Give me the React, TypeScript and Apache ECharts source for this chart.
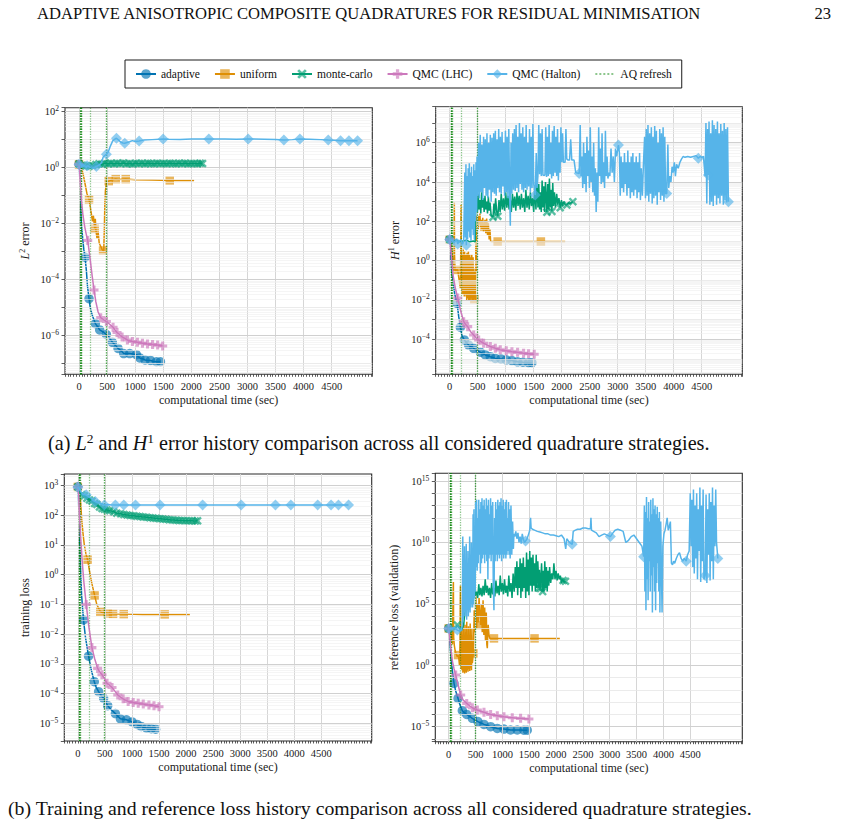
import React, { useEffect, useRef } from "react";
import * as echarts from "echarts";

type Pt = [number, number];

// ---------- shared ----------
const legendNames = ["adaptive", "uniform", "monte-carlo", "QMC (LHC)", "QMC (Halton)", "AQ refresh"];
const xTickLabels = [0, 500, 1000, 1500, 2000, 2500, 3000, 3500, 4000, 4500];
const refreshTimes = [20, 25, 30, 35, 40, 46, 208, 486, 492];

// ---------- (a) left: L2 error ----------
const l2AdaptiveLine: Pt[] = [[8,0.9],[18,0.2],[30,0.03],[45,8e-3],[65,3e-3],[85,1.2e-3],[130,2.2e-4],[150,6e-5],[200,1e-5],[240,5e-6],[330,2.1e-6],[420,1.4e-6],[540,8.5e-7],[650,4.5e-7],[750,2.9e-7],[850,2.3e-7],[960,2.2e-7],[1130,1.5e-7],[1230,1.3e-7],[1330,1.2e-7]];
const l2AdaptiveMarks: Pt[] = [[0,1.35],[107,6.3e-4],[178,2.1e-5],[291,2.7e-6],[368,1.6e-6],[487,1.1e-6],[594,5.8e-7],[695,3.5e-7],[796,2.3e-7],[903,2.3e-7],[1022,2.1e-7],[1082,1.6e-7],[1177,1.35e-7],[1273,1.3e-7],[1379,1.17e-7],[1450,1.17e-7]];
const l2UniformLine: Pt[] = [[20,1.1],[50,0.9],[80,0.5],[110,0.25],[140,0.12],[210,0.03],[240,0.012],[255,0.02],[290,0.015],[300,6e-3],[320,3e-3],[340,5e-3],[360,2e-3],[390,1.5e-3],[410,1.2e-3],[440,1e-3],[450,6e-3],[460,0.05],[470,0.15],[490,0.3],[580,0.36],[700,0.38],[1000,0.37],[1300,0.36],[2050,0.35]];
const l2UniformMarks: Pt[] = [[0,1.3],[178,0.074],[279,6.5e-3],[428,1.1e-3],[529,0.33],[654,0.39],[832,0.39],[1616,0.35]];
const l2McLine: Pt[] = [];
const l2McMarks: Pt[] = [[0,1.35],[60,1.22],[120,1.15],[180,1.12],[240,1.18],[300,1.3],[355,1.38],[410,1.33],[460,1.42],[515,1.38],[570,1.44],[625,1.37],[680,1.42],[735,1.39],[790,1.45],[845,1.38],[900,1.41],[955,1.36],[1010,1.43],[1065,1.39],[1120,1.42],[1175,1.37],[1230,1.44],[1285,1.4],[1340,1.38],[1395,1.43],[1450,1.39],[1505,1.41],[1560,1.37],[1615,1.44],[1670,1.4],[1725,1.38],[1780,1.42],[1835,1.39],[1890,1.43],[1945,1.38],[2000,1.41],[2055,1.4],[2110,1.37],[2160,1.42],[2200,1.4]];
const l2LhcLine: Pt[] = [[10,0.8],[25,0.25],[45,0.06],[70,0.02],[100,8e-3],[125,4.5e-3],[200,5e-4],[235,1.3e-4],[300,1.6e-5],[340,7e-6],[430,3.8e-6],[540,2.6e-6],[640,1.6e-6],[720,1.1e-6],[815,8e-7],[905,6.5e-7],[995,6e-7],[1085,5.6e-7],[1175,5.2e-7],[1265,4.9e-7],[1355,4.7e-7],[1445,4.5e-7]];
const l2LhcMarks: Pt[] = [[0,1.3],[155,2.5e-3],[267,4.3e-5],[386,4.4e-6],[487,3.2e-6],[606,2e-6],[677,1.3e-6],[767,9e-7],[862,7e-7],[951,6.2e-7],[1040,5.8e-7],[1130,5.4e-7],[1220,5e-7],[1310,4.8e-7],[1400,4.6e-7],[1490,4.3e-7]];
const l2HaltonLine: Pt[] = [[30,1.5],[45,1.0],[60,1.3],[80,1.1],[100,1.2],[130,1.0],[160,1.15],[200,1.0],[250,0.95],[290,1.05],[350,1.2],[400,1.5],[430,2.4],[460,2.7],[520,3.6],[560,6],[600,9],[640,10.5],[700,9.8],[740,8.2],[780,7.6],[900,8.4],[950,9.2],[1000,8.6],[1150,9.6],[1300,10],[1600,10.3],[1800,10.2],[2000,10.5],[2600,10.6],[2800,10.3],[3300,10.4],[3500,10.2],[3800,10],[4100,10.3],[4300,10],[4550,9.5]];
const l2HaltonMarks: Pt[] = [[0,1.3],[143,1.17],[309,1.1],[487,3.0],[666,11.2],[814,7.4],[1070,8.9],[1498,10.5],[2312,10.5],[3013,10.5],[3649,9.7],[3934,10.5],[4439,9.7],[4659,9.1],[4808,9.1],[4962,9.1]];

// ---------- (a) right: H1 error ----------
const h1AdaptiveLine: Pt[] = [[10,5],[20,1.5],[35,0.3],[60,0.08],[90,0.02],[160,1.5e-3],[220,1.5e-4],[300,6.5e-5],[380,4.2e-5],[480,2.8e-5],[590,1.9e-5],[680,1.45e-5],[770,1.2e-5],[860,1.03e-5],[960,9.5e-6],[1060,8.6e-6],[1160,7.7e-6],[1260,7e-6],[1360,6.6e-6]];
const h1AdaptiveMarks: Pt[] = [[0,12],[131,6.8e-3],[190,4.1e-4],[261,9.3e-5],[339,5.1e-5],[428,3.5e-5],[547,2.2e-5],[636,1.6e-5],[725,1.3e-5],[814,1.07e-5],[915,1e-5],[1010,9e-6],[1111,8.3e-6],[1212,7.2e-6],[1307,6.8e-6],[1408,6.5e-6],[1468,6.5e-6]];
const h1UniformLine: Pt[] = [[15,10],[30,6],[45,2],[60,0.5],[75,0.3],[80,30],[83,900],[86,2],[95,0.4],[110,0.3],[125,0.35],[160,0.15],[175,0.08],[190,0.04],[198,5],[202,700],[206,3],[212,0.05],[218,2],[224,0.03],[230,1.5],[236,0.02],[242,4],[248,0.03],[254,1],[260,0.015],[266,3],[272,0.02],[286,2],[292,0.015],[298,0.8],[304,0.01],[310,2.5],[316,0.012],[322,1.2],[328,0.02],[334,3],[340,0.01],[346,0.7],[352,0.015],[358,2],[364,0.01],[370,1.5],[376,0.02],[382,0.5],[388,0.012],[394,2],[400,0.01],[406,0.9],[412,0.015],[418,1.5],[424,0.01],[430,0.4],[450,0.3],[458,0.01],[464,0.5],[470,200],[476,0.3],[482,150],[490,60],[500,200],[510,40],[520,180],[530,70],[540,250],[550,50],[560,120],[575,40],[590,150],[605,30],[630,120],[645,25],[660,140],[675,20],[690,80],[705,12],[718,40],[730,10],[745,9.4],[2062,9.4]];
const h1UniformMarks: Pt[] = [[0,12],[143,0.34],[279,0.032],[440,0.011],[618,54],[856,9.4],[1628,9.4]];
const h1McLine: Pt[] = [[60,10],[120,11],[180,9],[240,10],[300,11],[360,9],[420,10],[455,9],[462,250],[480,1500],[495,300],[510,2500],[525,400],[540,1200],[555,250],[570,3000],[585,500],[600,1500],[615,300],[630,2000],[645,400],[660,1000],[675,250],[690,1800],[705,350],[720,900],[740,200],[790,800],[805,250],[820,1500],[840,300],[880,1200],[900,300],[920,2500],[940,400],[960,1500],[980,350],[1000,3000],[1020,500],[1040,2000],[1060,400],[1080,1500],[1100,300],[1120,2500],[1140,500],[1160,1800],[1180,350],[1200,3000],[1220,600],[1240,2000],[1260,400],[1280,2500],[1300,500],[1320,1500],[1340,300],[1360,4000],[1380,500],[1400,2000],[1420,400],[1440,3000],[1460,600],[1480,1500],[1500,300],[1520,5000],[1540,400],[1560,20000],[1575,500],[1590,8000],[1605,400],[1620,3000],[1635,300],[1650,12000],[1665,500],[1680,6000],[1695,300],[1710,10000],[1750,8000],[1765,400],[1780,15000],[1795,500],[1810,4000],[1840,9000],[1855,600],[1870,3000],[1890,500],[1910,2500],[1930,700],[1950,1500],[1995,1200],[2015,600],[2035,1000],[2060,700],[2120,900],[2150,800]];
const h1McMarks: Pt[] = [[0,12],[773,160],[860,180],[1735,290],[1825,320],[1973,490],[2092,680],[2199,1000]];
const h1LhcLine: Pt[] = [[15,5],[35,1.2],[59,0.19],[100,0.04],[200,2.5e-3],[290,5.5e-4],[370,2.5e-4],[470,1.2e-4],[560,7.5e-5],[665,5.2e-5],[770,3.9e-5],[860,3.2e-5],[960,2.7e-5],[1060,2.45e-5],[1160,2.25e-5],[1265,2.05e-5],[1360,1.9e-5],[1460,1.8e-5]];
const h1LhcMarks: Pt[] = [[0,12],[143,0.0126],[250,7.9e-4],[321,4.4e-4],[428,1.66e-4],[517,9.3e-5],[606,6.3e-5],[725,4.3e-5],[814,3.5e-5],[903,2.9e-5],[1010,2.6e-5],[1111,2.3e-5],[1212,2.2e-5],[1319,1.95e-5],[1408,1.86e-5],[1509,1.74e-5]];
const h1HaltonLine: Pt[] = [[40,11],[80,8],[120,13],[160,9],[200,12],[230,7],[250,10],
[261,10],[270,3e4],[280,15],[290,8e4],[310,2e4],[320,12],[330,5e4],[340,30],[350,9e4],[360,15],[370,3e4],[380,10],[390,6e4],[400,40],[410,2e4],[420,20],[430,8e4],[440,12],[450,4e4],[460,100],[470,1e5],[480,300],[488,2e5],
[500,2000],[515,1e6],[530,1500],[545,2.5e6],[560,3000],[575,8e5],[590,1200],[605,2e6],[620,5000],[635,1.5e6],[650,2000],[665,3e6],[680,1500],[695,1e6],[710,4000],[725,2.5e6],[740,1000],[755,1.8e6],[770,3000],[785,3e6],
[800,2500],[815,4e6],[830,2000],[845,1.5e6],[860,5000],[875,5e6],[890,3000],[905,2e6],[920,2500],[935,3.5e6],[950,6000],[965,1e6],[980,2000],[995,4e6],[1010,3000],[1025,2e6],[1040,1500],[1055,5e6],[1070,3000],[1082,60],[1095,1e6],[1110,2500],[1125,3e6],[1140,4000],
[1155,5e6],[1170,3500],[1185,8e6],[1200,5000],[1215,2e6],[1230,3000],[1245,1e7],[1260,8000],[1275,3e6],[1290,4000],[1305,6e6],[1320,3000],[1335,2e6],[1350,5000],[1365,8e6],[1380,4000],[1395,1e6],[1410,6000],[1425,5e6],[1440,3000],[1455,2e6],[1470,5000],[1485,9e6],[1500,8000],[1545,3e5],[1560,5e3],
[1575,2e4],[1590,8e6],[1605,2.5e4],[1620,3e6],[1635,2e4],[1650,5e6],[1665,2.2e4],[1700,2.2e4],[1715,6e6],[1730,1.8e4],[1745,2e6],[1760,2e4],[1775,8e6],[1790,2.5e4],[1805,1e6],[1820,1.5e4],[1835,4e6],[1850,2e4],[1865,7e6],[1880,3e4],[1895,2e6],[1910,2e4],[1925,5e6],[1940,1.2e4],[1955,1e6],[1970,3e4],[1985,6e6],[2000,1e5],[2015,3e6],[2030,1e5],[2060,1e5],[2075,5e6],[2090,1.5e5],[2110,1.3e5],[2140,1.3e5],[2160,1.5e6],[2180,1.3e5],[2220,1.3e5],[2250,3e4],
[2330,8e6],[2345,2e4],[2360,2e5],[2375,5000],[2390,1e6],[2405,8000],[2420,3e5],[2435,3000],[2450,2e6],[2465,2e4],[2480,4e5],[2495,5000],[2510,6e6],[2525,1e4],[2540,2e5],[2555,3000],[2570,1e6],[2585,2000],[2600,5e4],[2615,300],[2630,3e4],[2645,1000],[2660,6e6],[2675,2e4],[2690,5e5],[2705,8000],[2720,3e6],[2735,1e4],[2750,1e5],[2765,5000],[2780,4e6],[2795,2e4],[2810,2e5],[2825,1.5e4],[2840,3e4],[2860,2e4],[2880,5e5],[2900,3e4],[2920,2e5],[2940,1e4],[2960,5e5],[2980,2e5],
[3030,3e5],[3045,2000],[3060,2e5],[3075,5000],[3090,1e5],[3105,3000],[3120,3e5],[3135,8000],[3150,1e5],[3165,2000],[3180,4e5],[3195,5000],[3210,1e5],[3225,1500],[3240,2e5],[3255,3000],[3270,3e5],[3285,2000],[3300,1e5],[3315,4000],[3330,2e5],[3345,1500],[3360,1e5],[3375,3000],[3390,3e5],[3405,1200],[3420,5e4],[3440,2000],[3460,1e5],
[3480,2e6],[3495,1500],[3510,5e6],[3525,2000],[3540,8e6],[3555,1000],[3570,3e6],[3585,2500],[3600,6e6],[3615,800],[3630,2e6],[3645,1500],[3660,7e6],[3675,2000],[3690,4e6],[3705,700],[3720,1e6],[3735,3000],[3750,5e6],[3765,1200],[3780,3e6],[3795,2000],[3810,6e6],[3825,1000],[3840,2e6],[3855,2500],[3895,8e5],[3910,5000],[3930,2e4],[3950,1e4],[3970,6e4],
[3990,3e4],[4010,1e5],[4030,2e4],[4050,8e4],[4080,5e4],[4110,1e5],[4140,1.5e5],[4170,2e5],[4200,1.8e5],[4250,2e5],[4300,1.8e5],[4350,2e5],[4400,2.2e5],[4470,2e5],[4500,1.8e5],[4530,2e5],[4560,2e4],
[4575,1e7],[4590,800],[4605,5e6],[4630,1.2e7],[4645,700],[4660,3e6],[4675,1000],[4690,1.4e7],[4705,600],[4720,8e6],[4735,2000],[4750,5e6],[4765,700],[4780,1.2e7],[4795,1500],[4810,3e6],[4825,800],[4840,9e6],[4855,2000],[4870,4e6],[4885,700],[4900,1e7],[4915,1200],[4930,5e6],[4945,900],[4960,6e6]];
const h1HaltonMarks: Pt[] = [[0,12],[143,7],[297,6],[1527,2200],[2312,2.7e4],[3013,7.6e5],[3875,2600],[4439,1.6e5],[4618,2.3e4],[4976,1000]];

// ---------- (b) left: training loss ----------
const trAdaptiveLine: Pt[] = [[10,600],[20,100],[35,10],[50,1.5],[70,0.2],[140,8e-3],[250,6e-4],[340,1.6e-4],[430,8.5e-5],[510,5.3e-5],[620,2.8e-5],[740,1.7e-5],[840,1.35e-5],[950,1.2e-5],[1050,1e-5],[1130,8.4e-6],[1220,7.2e-6],[1310,6.6e-6],[1400,6.4e-6]];
const trAdaptiveMarks: Pt[] = [[0,900],[105,0.03],[198,1.8e-3],[304,2.5e-4],[384,1.15e-4],[477,6.9e-5],[552,3.9e-5],[694,2.1e-5],[787,1.4e-5],[899,1.3e-5],[1004,1.1e-5],[1097,9.1e-6],[1171,7.8e-6],[1271,6.8e-6],[1357,6.5e-6],[1438,6.3e-6]];
const trUniformLine: Pt[] = [[30,800],[50,300],[70,80],[95,25],[120,10],[150,5],[220,1.2],[260,0.5],[350,0.1],[460,0.052],[750,0.047],[1200,0.046],[2070,0.046]];
const trUniformMarks: Pt[] = [[0,900],[180,3.2],[310,0.2],[415,0.057],[552,0.05],[651,0.048],[849,0.047],[1605,0.046]];
const trMcLine: Pt[] = [[30,600],[95,480],[140,420],[190,350],[240,320],[285,270],[330,240],[375,210],[420,180],[470,165],[515,155],[565,145],[625,138],[690,125],[755,115],[820,108],[880,104],[940,100],[1000,97],[1060,94],[1120,91],[1180,89],[1240,87],[1300,84],[1360,82],[1420,80],[1480,78],[1540,76],[1600,74],[1660,72],[1720,70],[1780,69],[1840,68],[1900,67],[1960,66],[2020,66],[2080,65],[2140,64],[2190,65]];
const trMcMarks: Pt[] = [[0,900],[74,490],[120,450],[167,375],[215,330],[260,300],[310,250],[353,230],[400,190],[446,170],[490,160],[539,150],[590,142],[663,132],[720,118],[790,112],[850,106],[910,102],[970,98],[1030,96],[1090,92],[1150,91],[1210,88],[1270,86],[1330,83],[1390,81],[1450,79],[1510,77],[1570,75],[1630,73],[1690,71],[1750,70],[1810,68],[1870,67],[1930,67],[1990,66],[2050,65],[2110,65],[2170,64],[2213,65]];
const trLhcLine: Pt[] = [[15,500],[30,100],[50,20],[80,3],[110,0.6],[200,0.02],[310,1.5e-3],[400,5.5e-4],[490,3.2e-4],[585,1.9e-4],[685,1.2e-4],[790,7.6e-5],[880,6e-5],[975,5.2e-5],[1070,4.8e-5],[1160,4.5e-5],[1260,4.2e-5],[1360,4e-5],[1450,3.7e-5]];
const trLhcMarks: Pt[] = [[0,900],[155,0.1],[260,3.5e-3],[366,7e-4],[446,4.3e-4],[539,2.2e-4],[632,1.6e-4],[738,8.9e-5],[837,6.6e-5],[930,5.4e-5],[1023,5e-5],[1116,4.7e-5],[1209,4.4e-5],[1314,4.1e-5],[1407,3.9e-5],[1500,3.6e-5]];
const trHaltonLine: Pt[] = [[30,800],[60,600],[100,500],[200,420],[250,380],[280,320],[400,260],[550,230],[600,225],[800,224],[1200,224],[2000,224],[3000,224],[4000,224],[4900,224]];
const trHaltonMarks: Pt[] = [[0,900],[155,490],[322,290],[490,224],[694,224],[849,224],[1066,224],[1519,224],[2306,224],[3018,224],[3651,224],[3936,224],[4432,224],[4679,224],[4816,224],[5002,224]];

// ---------- (b) right: reference loss ----------
const refAdaptiveLine: Pt[] = [[10,500],[25,50],[45,3],[70,0.3],[130,8e-3],[210,6e-4],[290,1.4e-4],[390,7e-5],[490,3.5e-5],[600,2e-5],[720,1.25e-5],[840,8.5e-6],[970,6.8e-6],[1090,6e-6],[1215,5.4e-6],[1340,5.3e-6]];
const refAdaptiveMarks: Pt[] = [[0,1000],[99,0.034],[174,2e-3],[254,2e-4],[335,1e-4],[440,4.8e-5],[545,2.6e-5],[657,1.55e-5],[781,1e-5],[905,7.2e-6],[1029,6.5e-6],[1153,5.4e-6],[1277,5.4e-6],[1401,5.2e-6],[1463,5.2e-6]];
const refUniformLine: Pt[] = [[30,600],[55,200],[70,50],[82,5e5],[87,6e6],[92,200],[105,40],[120,15],[140,8],[160,5],[190,3],[200,1],[210,50],[218,3e6],[226,20],[232,0.5],[240,1000],[248,0.4],[256,300],[264,0.25],[272,3000],[280,0.3],[288,100],[296,0.22],[304,2000],[312,0.3],[320,500],[328,0.25],[336,3500],[344,0.4],[352,200],[360,0.3],[368,1500],[376,0.5],[384,100],[392,0.35],[400,2500],[408,0.6],[416,300],[424,0.4],[432,1000],[440,1.5],[475,3e4],[490,500],[505,5e5],[520,1000],[535,1e5],[550,3000],[565,3e5],[580,2e4],[610,8e4],[625,500],[640,2e5],[655,300],[670,5e4],[685,100],[700,2e4],[710,50],[719,25],[735,2000],[750,300],[765,160],[780,155],[2070,155]];
const refUniformMarks: Pt[] = [[0,1000],[174,6.8],[459,9.3],[595,1900],[843,155],[1599,155]];
const refMcLine: Pt[] = [[60,1100],[120,900],[180,1300],[240,700],[280,2000],[300,2e4],[320,3e5],[340,1e5],[360,5e5],[380,2e5],[400,1e6],[420,3e5],[440,8e5],[460,2e5],[480,2e6],[500,5e5],[520,1e6],[540,3e5],[560,4e6],[580,5e5],[600,2e6],[620,4e5],[640,3e6],[660,5e5],[680,1e7],[700,8e5],[720,3e6],[740,5e5],[760,2e6],[780,3e5],[800,5e6],[820,6e5],[840,2e6],[860,4e5],[880,8e6],[900,7e5],[920,3e6],[940,5e5],[960,2e7],[980,1e6],[1000,5e6],[1020,6e5],[1040,1e7],[1060,8e5],[1080,3e6],[1100,4e5],[1120,2e7],[1140,1e6],[1160,5e6],[1180,3e5],[1200,3e7],[1220,1e6],[1240,1e8],[1255,2e6],[1270,3e8],[1285,5e5],[1300,1e8],[1315,2e6],[1330,5e8],[1345,3e5],[1360,2e8],[1375,1e6],[1390,6e8],[1405,2e6],[1420,1e8],[1435,3e5],[1450,1.5e9],[1465,1e6],[1480,4e8],[1495,5e5],[1510,2e9],[1525,3e6],[1540,6e8],[1555,1e6],[1570,1e9],[1585,3e6],[1600,2e8],[1615,1e6],[1630,1e9],[1645,2e6],[1660,3e8],[1690,6e7],[1730,2e8],[1745,3e6],[1760,5e7],[1775,1e6],[1790,3e8],[1805,2e6],[1820,1e8],[1835,1e6],[1850,5e7],[1865,3e6],[1880,1e8],[1900,5e6],[1920,3e7],[1940,1e7],[1960,2e8],[1980,1e7],[2000,5e7],[2020,8e6],[2040,3e7],[2060,1e7],[2080,2e7],[2100,5e6],[2120,1e7],[2150,6e6]];
const refMcMarks: Pt[] = [[0,1000],[161,1900],[1680,2e6],[1711,1.8e6],[1750,1e6],[2130,8e6],[2175,7e6]];
const refLhcLine: Pt[] = [[15,300],[40,20],[70,2],[100,0.5],[170,0.03],[270,1.5e-3],[390,5e-4],[485,2.8e-4],[595,1.8e-4],[720,1.2e-4],[840,8.8e-5],[965,7.1e-5],[1100,5.9e-5],[1260,5e-5],[1415,4.5e-5]];
const refLhcMarks: Pt[] = [[0,1000],[130,0.16],[223,3.8e-3],[335,7.9e-4],[440,3.5e-4],[533,2.3e-4],[657,1.5e-4],[781,1e-4],[905,7.9e-5],[1029,6.5e-5],[1184,5.4e-5],[1339,4.8e-5],[1494,4.2e-5]];
const refHaltonLine: Pt[] = [[60,900],[100,1200],[200,600],[240,800],
[254,3000],[262,3e10],[270,5000],[278,1e9],[286,2e4],[294,5e9],[302,1e4],[310,2e8],[318,3e4],[326,8e9],[334,5e3],[342,1e8],[350,3e4],[358,2e9],[366,1e4],[374,5e8],[382,3e4],[390,3e10],[398,2e4],[406,1e9],[414,5e4],[422,1e10],[430,1e5],[438,3e9],[446,5e4],[454,2e12],[462,1e5],[470,5e12],[478,3e5],[486,1e11],[494,1e6],[502,2e13],
[510,1e8],[520,3e13],[530,5e7],[540,1e12],[550,2e8],[560,3e13],[570,1e9],[580,5e12],[590,3e7],[600,2e13],[610,2e8],[620,4e13],[630,5e8],[640,1e13],[650,1e9],[660,3e13],[670,2e8],[680,5e12],[690,1e9],[700,4e13],[710,3e8],[720,1e13],[730,1e7],[740,3e13],[750,5e8],[760,2e12],[770,1e9],[780,4e13],[790,3e8],[800,1e13],[810,1e9],[820,2e13],[830,5e6],[843,3e4],[855,1e12],[865,3e8],[875,2e13],[885,1e9],[895,5e12],[905,3e8],[915,3e13],[925,1e9],[935,1e13],[945,5e8],[955,2e13],[965,1e9],[975,4e13],[985,3e8],[995,1e13],[1005,1e9],[1015,3e13],[1025,5e8],[1035,5e12],[1045,1e9],[1055,2e13],[1065,5e8],[1075,3e13],[1085,1e9],[1095,1e12],[1105,2e9],[1115,2e13],[1125,1e9],[1135,5e12],[1145,5e8],[1160,1e13],[1175,1e9],[1190,5e11],[1205,3e9],[1215,5e10],
[1230,3e10],[1250,8e10],[1270,2e10],[1290,6e10],[1310,1e10],[1330,3e10],[1350,8e9],[1370,5e10],[1390,2e10],[1410,1e10],[1460,2e10],[1490,5e10],[1510,1e11],[1525,1e12],[1535,1.5e11],[1560,1.2e11],[1600,1e11],[1650,8e10],[1700,7e10],[1750,6e10],[1800,5e10],[1850,5e10],[1900,4e10],[1950,4e10],[2000,3.5e10],[2050,3e10],[2100,4e10],[2150,2e10],[2180,3e9],[2200,2e10],[2250,1e10],
[2320,8e10],[2360,1e11],[2400,1.2e11],[2450,1.2e11],[2500,1.5e11],[2550,1.5e11],[2600,1.3e11],[2640,1.3e11],[2650,1e12],[2660,1e11],[2700,8e10],[2750,6e10],[2800,3e10],[2850,4e10],[2900,5e10],[2950,4e10],[3060,6e10],[3100,1e11],[3150,1.2e11],[3200,1e11],[3250,8e10],[3300,1e10],[3350,1.5e10],[3400,3e10],[3450,4e10],[3500,2e10],[3550,1e10],[3600,5e9],
[3645,1e13],[3655,1e6],[3665,3e12],[3675,3e4],[3685,5e13],[3695,1e7],[3705,1e12],[3715,2e5],[3725,2e13],[3735,3e8],[3745,5e11],[3755,1e6],[3765,3e13],[3775,2e7],[3785,2e12],[3795,2e4],[3805,4e13],[3815,1e8],[3825,5e12],[3835,1e6],[3845,1e13],[3855,3e4],[3865,2e12],[3875,5e6],[3885,8e12],[3895,2e8],[3905,1e12],[3915,1e6],[3925,3e12],[3935,2e4],[3950,5e11],
[3975,2e4],[3990,5e9],[4010,5e10],[4030,1e11],[4050,3e11],[4070,1e12],[4090,1e11],[4110,2e11],[4130,5e11],[4150,2e8],[4170,1.5e8],[4190,3e8],[4210,2e8],[4240,5e8],[4270,1e9],[4300,1.5e9],[4330,5e8],[4360,3e8],[4390,5e8],[4450,1e9],[4480,2e9],
[4500,1e14],[4515,5e9],[4530,3e13],[4545,1e8],[4560,2e14],[4575,3e7],[4590,1e13],[4605,5e8],[4620,1e14],[4635,1e7],[4650,5e12],[4665,2e9],[4680,3e14],[4695,6e6],[4710,1e13],[4725,3e8],[4740,2e14],[4755,1e7],[4795,8e13],[4810,5e6],[4825,5e12],[4840,1e9],[4855,1e14],[4870,8e6],[4885,2e13],[4900,3e8],[4915,3e14],[4930,1e7],[4945,1e13],[4960,5e9],[4975,2e14],[4990,1e10]];
const refHaltonMarks: Pt[] = [[0,1000],[161,740],[1432,1.3e10],[2300,7e9],[3012,3e10],[3632,7e8],[4425,3e8],[4779,2e7],[5014,5e8]];

// ---------- styling ----------
const F = "'Liberation Serif', 'DejaVu Serif', serif";
const X_PATH = "path://M2,0 L5,3 L8,0 L10,2 L7,5 L10,8 L8,10 L5,7 L2,10 L0,8 L3,5 L0,2 Z";
const P_PATH = "path://M3.3,0 H6.7 V3.3 H10 V6.7 H6.7 V10 H3.3 V6.7 H0 V3.3 H3.3 Z";
const STRATS = [
  { name: "adaptive", color: "#0173B2", symbol: "circle", size: 9.5 },
  { name: "uniform", color: "#DE8F05", symbol: "rect", size: 8.5 },
  { name: "monte-carlo", color: "#029E73", symbol: X_PATH, size: 8.5 },
  { name: "QMC (LHC)", color: "#CC78BC", symbol: P_PATH, size: 9 },
  { name: "QMC (Halton)", color: "#56B4E9", symbol: "diamond", size: 11 },
];
const REFRESH_COLOR = "rgba(0,128,0,0.45)";

const panels = [
  { grid: { left: 65, top: 107.7, width: 307.3, height: 266.6 }, xMax: 5224, yMin: -7.38, yMax: 2.14, stride: 2, name: "{i|L}{s|2}{n| error}", nameGap: 33,
    data: [[l2AdaptiveLine, l2AdaptiveMarks], [l2UniformLine, l2UniformMarks], [l2McLine, l2McMarks], [l2LhcLine, l2LhcMarks], [l2HaltonLine, l2HaltonMarks]] },
  { grid: { left: 435.7, top: 106.7, width: 306.6, height: 267.6 }, xMax: 5224, yMin: -5.78, yMax: 7.83, stride: 2, name: "{i|H}{s|1}{n| error}", nameGap: 34,
    data: [[h1AdaptiveLine, h1AdaptiveMarks], [h1UniformLine, h1UniformMarks], [h1McLine, h1McMarks], [h1LhcLine, h1LhcMarks], [h1HaltonLine, h1HaltonMarks]] },
  { grid: { left: 64.3, top: 474, width: 307.4, height: 267 }, xMax: 5430, yMin: -5.6, yMax: 3.39, stride: 1, name: "{n|training loss}", nameGap: 33,
    data: [[trAdaptiveLine, trAdaptiveMarks], [trUniformLine, trUniformMarks], [trMcLine, trMcMarks], [trLhcLine, trLhcMarks], [trHaltonLine, trHaltonMarks]] },
  { grid: { left: 435.3, top: 473.3, width: 307, height: 268.4 }, xMax: 5470, yMin: -6.22, yMax: 15.63, stride: 5, name: "{n|reference loss (validation)}", nameGap: 35,
    data: [[refAdaptiveLine, refAdaptiveMarks], [refUniformLine, refUniformMarks], [refMcLine, refMcMarks], [refLhcLine, refLhcMarks], [refHaltonLine, refHaltonMarks]] },
];

function toData(line: Pt[], marks: Pt[]) {
  const items = [
    ...line.map((p) => ({ t: p[0], v: p[1], m: false })),
    ...marks.map((p) => ({ t: p[0], v: p[1], m: true })),
  ].sort((a, b) => a.t - b.t);
  return items.map((it) =>
    it.m ? { value: [it.t, Math.log10(it.v)] } : { value: [it.t, Math.log10(it.v)], symbol: "none" }
  );
}

function sup(n: number) {
  return n < 0 ? "\u2212" + String(-n) : String(n);
}

function buildOption() {
  const grids: any[] = [];
  const xAxes: any[] = [];
  const yAxes: any[] = [];
  const series: any[] = [];
  const tickColor = "#333";
  const textColor = "#1a1a1a";

  panels.forEach((p, i) => {
    grids.push({ ...p.grid, show: true, borderColor: "#2b2b2b", borderWidth: 1.1, backgroundColor: "transparent", containLabel: false });
    xAxes.push({
      type: "value", gridIndex: i, position: "bottom", min: -250, max: p.xMax, interval: 50,
      axisLine: { show: false, onZero: false }, splitLine: { show: false },
      axisTick: { show: true, length: 2.5, lineStyle: { color: tickColor, width: 0.8 } },
      axisLabel: {
        margin: 7, fontFamily: F, fontSize: 10.5, color: textColor,
        formatter: (v: number) => (v >= 0 && v <= 4500 && Math.abs(v % 500) < 1e-6 ? String(Math.round(v)) : ""),
      },
      name: "computational time (sec)", nameLocation: "middle", nameGap: 20,
      nameTextStyle: { fontFamily: F, fontSize: 12, color: textColor },
    });
    const stride = p.stride;
    yAxes.push({
      type: "value", gridIndex: i, position: "left", min: p.yMin, max: p.yMax, minInterval: 1, maxInterval: 1,
      splitNumber: Math.round(p.yMax - p.yMin),
      axisLine: { show: false, onZero: false }, splitLine: { show: false },
      axisTick: { show: true, length: 3.5, lineStyle: { color: tickColor, width: 0.8 } },
      axisLabel: {
        margin: 6, color: textColor,
        formatter: (v: number) => {
          const r = Math.round(v);
          if (Math.abs(v - r) > 1e-6 || r % stride !== 0) return "";
          return "{b|10}{s|" + sup(r) + "}";
        },
        rich: {
          b: { fontFamily: F, fontSize: 10.5, color: textColor },
          s: { fontFamily: F, fontSize: 7.5, color: textColor, padding: [0, 0, 6, 0] },
        },
      },
      name: p.name, nameLocation: "middle", nameGap: p.nameGap,
      nameTextStyle: {
        color: textColor,
        rich: {
          i: { fontFamily: F, fontStyle: "italic", fontSize: 12, color: textColor },
          s: { fontFamily: F, fontSize: 8, color: textColor, padding: [0, 0, 6, 0] },
          n: { fontFamily: F, fontSize: 12, color: textColor },
        },
      },
    });

    // grid lines
    const gl: any[] = [];
    xTickLabels.forEach((v) => gl.push({ xAxis: v, lineStyle: { color: "#d6d6d6", width: 1 } }));
    for (let d = Math.floor(p.yMin); d <= Math.ceil(p.yMax); d++) {
      if (d >= p.yMin && d <= p.yMax) {
        const major = d % stride === 0;
        gl.push({ yAxis: d, lineStyle: { color: major ? "#d0d0d0" : "#e6e6e6", width: major ? 1.2 : 0.8 } });
      }
      for (let k = 2; k <= 9; k++) {
        const y = d + Math.log10(k);
        if (y > p.yMin && y < p.yMax && stride < 5) gl.push({ yAxis: y, lineStyle: { color: "#efefef", width: 0.6 } });
      }
    }
    series.push({
      type: "line", name: "__grid" + i, xAxisIndex: i, yAxisIndex: i, data: [[-250, p.yMin]], symbol: "none",
      lineStyle: { opacity: 0 }, silent: true, z: 1, animation: false,
      markLine: { silent: true, symbol: ["none", "none"], label: { show: false }, animation: false, precision: 4, lineStyle: { type: "solid" }, emphasis: { disabled: true }, data: gl },
    });

    STRATS.forEach((s, j) => {
      const [line, marks] = p.data[j] as [Pt[], Pt[]];
      series.push({
        type: "line", name: s.name, xAxisIndex: i, yAxisIndex: i,
        data: toData(line, marks),
        symbol: s.symbol, symbolSize: s.size, showSymbol: true, showAllSymbol: true,
        lineStyle: { color: s.color, width: 1.5 },
        itemStyle: { color: s.color, opacity: 0.65 },
        z: 3 + j, silent: true, animation: false, emphasis: { disabled: true },
      });
    });

    series.push({
      type: "line", name: "AQ refresh", xAxisIndex: i, yAxisIndex: i, data: [[-250, p.yMin]], symbol: "none",
      lineStyle: { color: REFRESH_COLOR, type: "dotted", width: 1.3 }, itemStyle: { color: "rgba(0,0,0,0)", borderWidth: 0 },
      z: 10, silent: true, animation: false,
      markLine: {
        silent: true, symbol: ["none", "none"], label: { show: false }, animation: false, emphasis: { disabled: true },
        lineStyle: { color: REFRESH_COLOR, type: "dotted", width: 1.3 },
        data: refreshTimes.map((t) => ({ xAxis: t })),
      },
    });
  });

  return {
    animation: false,
    backgroundColor: "#ffffff",
    grid: grids,
    xAxis: xAxes,
    yAxis: yAxes,
    series,
    legend: {
      data: legendNames, left: 125, top: 60, orient: "horizontal", selectedMode: false,
      borderColor: "#1a1a1a", borderWidth: 1, borderRadius: 0, padding: [8, 10],
      itemGap: 14, itemWidth: 20, itemHeight: 12,
      textStyle: { fontFamily: F, fontSize: 11.5, color: "#111" },
    },
    graphic: [
      { type: "text", x: 37, y: 13, style: { text: "ADAPTIVE ANISOTROPIC COMPOSITE QUADRATURES FOR RESIDUAL MINIMISATION", fontFamily: F, fontSize: 16.6, fill: "#111", verticalAlign: "middle" } },
      { type: "text", x: 831, y: 13, style: { text: "23", fontFamily: F, fontSize: 16.6, fill: "#111", align: "right", verticalAlign: "middle" } },
      { type: "text", x: 48, y: 443, style: {
          text: "(a) {i|L}{s|2} and {i|H}{s|1} error history comparison across all considered quadrature strategies.",
          fontFamily: F, fontSize: 20.2, fill: "#111", verticalAlign: "middle",
          rich: { i: { fontFamily: F, fontStyle: "italic", fontSize: 20.2, fill: "#111" }, s: { fontFamily: F, fontSize: 13.5, fill: "#111", padding: [0, 0, 9, 0] } },
        } },
      { type: "text", x: 8, y: 808, style: {
          text: "(b) Training and reference loss history comparison across all considered quadrature strategies.",
          fontFamily: F, fontSize: 19.8, fill: "#111", verticalAlign: "middle",
        } },
    ],
  };
}

export default function App() {
  const ref = useRef<HTMLDivElement>(null);
  useEffect(() => {
    if (!ref.current) return;
    const chart = echarts.init(ref.current, null, { renderer: "svg" });
    chart.setOption(buildOption() as any);
    return () => chart.dispose();
  }, []);
  return <div ref={ref} style={{ position: "absolute", left: 0, top: 0, width: 845, height: 828, background: "#fff" }} />;
}
